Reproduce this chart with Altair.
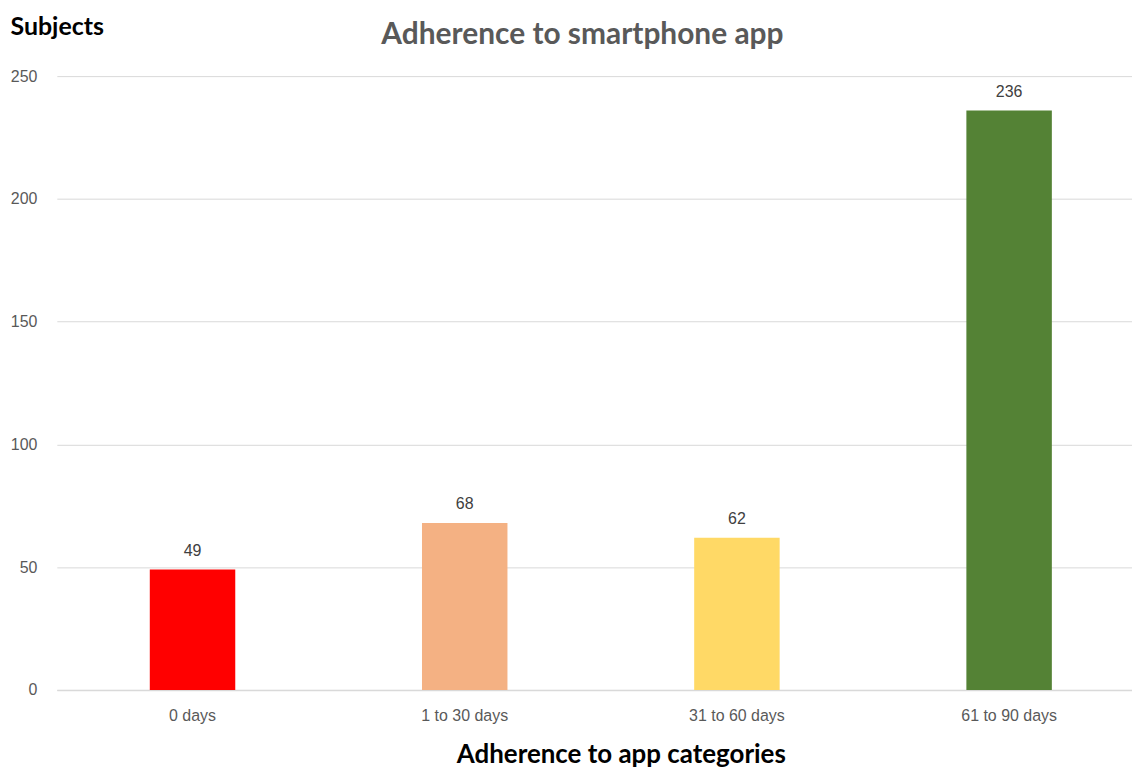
import altair as alt
import pandas as pd

categories = ["0 days", "1 to 30 days", "31 to 60 days", "61 to 90 days"]
subjects = [49, 68, 62, 236]
colors = ["#FF0000", "#F4B183", "#FFD966", "#548235"]
y_ticks = [0, 50, 100, 150, 200, 250]

df = pd.DataFrame({"category": categories, "subjects": subjects, "color": colors})

LABEL_FONT = "Liberation Sans"
TITLE_FONT = "Lato"

base = alt.Chart(df).encode(
    x=alt.X(
        "category:N",
        sort=categories,
        scale=alt.Scale(paddingInner=0.686, paddingOuter=0.318, align=0.537),
        axis=alt.Axis(
            title="Adherence to app categories",
            titleFont=TITLE_FONT, titleFontSize=26, titleFontWeight="bold",
            titleColor="#000000", titleX=566, titleY=73, titleBaseline="alphabetic",
            labelFont=LABEL_FONT, labelFontSize=16, labelColor="#595959",
            labelAngle=0, labelPadding=18, ticks=False, tickSize=0,
            domainColor="#D9D9D9", domainWidth=1.5,
        ),
    ),
    y=alt.Y(
        "subjects:Q",
        scale=alt.Scale(domain=[0, 250], nice=False),
        axis=alt.Axis(
            values=y_ticks,
            title="Subjects",
            titleFont=TITLE_FONT, titleFontSize=25, titleFontWeight="bold",
            titleColor="#000000", titleAngle=0, titleAlign="left",
            titleBaseline="middle", titleX=-47, titleY=-50,
            labelFont=LABEL_FONT, labelFontSize=16, labelColor="#595959",
            labelPadding=20, ticks=False, tickSize=0, domain=False,
            gridColor="#D9D9D9", gridWidth=1,
        ),
    ),
)

bars = base.mark_bar().encode(color=alt.Color("color:N", scale=None))
labels = base.mark_text(
    dy=-19, font=LABEL_FONT, fontSize=16, color="#404040", baseline="middle"
).encode(text="subjects:Q")

chart = (
    (bars + labels)
    .properties(
        width=1079,
        height=616,
        autosize=alt.AutoSizeParams(type="none"),
        padding={"left": 49, "top": 67, "right": 0, "bottom": 79},
        title=alt.TitleParams(
            "Adherence to smartphone app",
            font=TITLE_FONT, fontSize=30, fontWeight="bold", color="#595959",
            anchor="middle", frame="group", dx=-12, dy=40,
        ),
    )
    .configure_view(stroke=None)
)

chart.save("out.html", embed_options={"renderer": "svg", "actions": False})
